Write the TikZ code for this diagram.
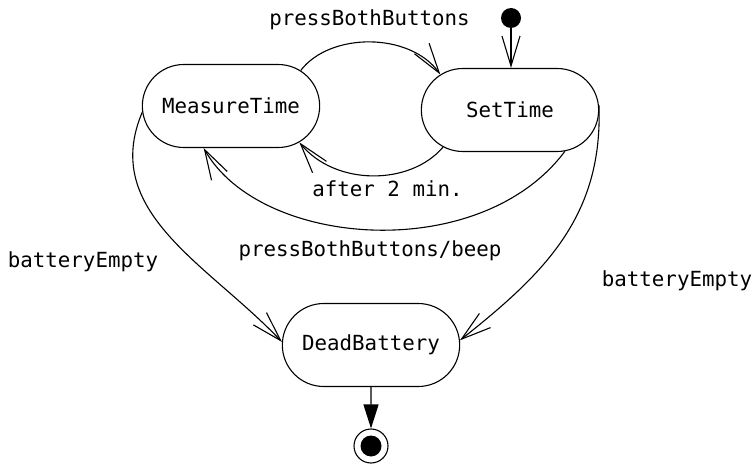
\documentclass[tikz,border=0pt]{standalone}
\usepackage{fontspec}
\usepackage{xcolor}
\usepackage{tikz}
\usetikzlibrary{positioning,arrows.meta,shapes.misc}
\newfontfamily\umlfont{DejaVu Sans Mono}
\definecolor{ink}{HTML}{000000}
\tikzset{
    statebox/.style={
        draw=ink, rounded rectangle, line width=1.1pt,
        minimum width=184pt, minimum height=83pt,
        font=\umlfont\fontsize{20.8}{25}\selectfont, align=center
    },
    initdot/.style={
        circle, fill=ink, inner sep=0pt, minimum size=20pt
    },
    finaldot/.style={
        circle, draw=ink, line width=1.1pt, inner sep=0pt, minimum size=34pt,
        path picture={\fill[ink] (path picture bounding box.center) circle (10.5pt);}
    },
    translabel/.style={
        font=\umlfont\fontsize{20.8}{25}\selectfont, anchor=base, inner sep=0pt
    },
    trans/.style={-{Straight Barb[length=30pt,width=18pt,line width=1.1pt]}, line width=1.1pt, color=ink},
    endarrow/.style={-{Triangle[length=24pt,width=15pt]}, line width=1.1pt, color=ink},
}
\begin{document}
\begin{tikzpicture}[
        x=1pt, y=-1pt,
        node distance=0pt and 0pt,
    ]
        \useasboundingbox (0,0) rectangle (755,465);
        \node[statebox] (measure) at (231,106) {MeasureTime};
        \node[statebox] (set) at (510,110) {SetTime};
        \node[statebox] (dead) at (371,345) {DeadBattery};
        \node[initdot] (init) at (511,18) {};
        \node[finaldot] (final) at (371,446) {};
        \draw[trans] (init) -- (init |- set.north);
        \draw[trans] (measure.27) .. controls (330,32) and (410,32) .. (set.153);
        \draw[trans] (set.209) .. controls (410,186) and (335,186) .. (measure.-28);
        \draw[trans] (set.-37) .. controls (480,265) and (260,248) .. (measure.237);
        \draw[trans] (measure.184) .. controls (100,212) and (208,264) .. (dead.178);
        \draw[trans] (set.3) .. controls (603,216) and (545,273) .. (dead.3);
        \draw[endarrow] (dead) -- (final);
        \node[translabel] (lpress) at (369.5,26) {pressBothButtons};
        \node[translabel] (lafter) at (387.5,197) {after 2 min.};
        \node[translabel] (lbeep) at (370,257) {pressBothButtons/beep};
        \node[translabel] (lleft) at (83,267) {batteryEmpty};
        \node[translabel] (lright) at (677,286) {batteryEmpty};
    \end{tikzpicture}
\end{document}
